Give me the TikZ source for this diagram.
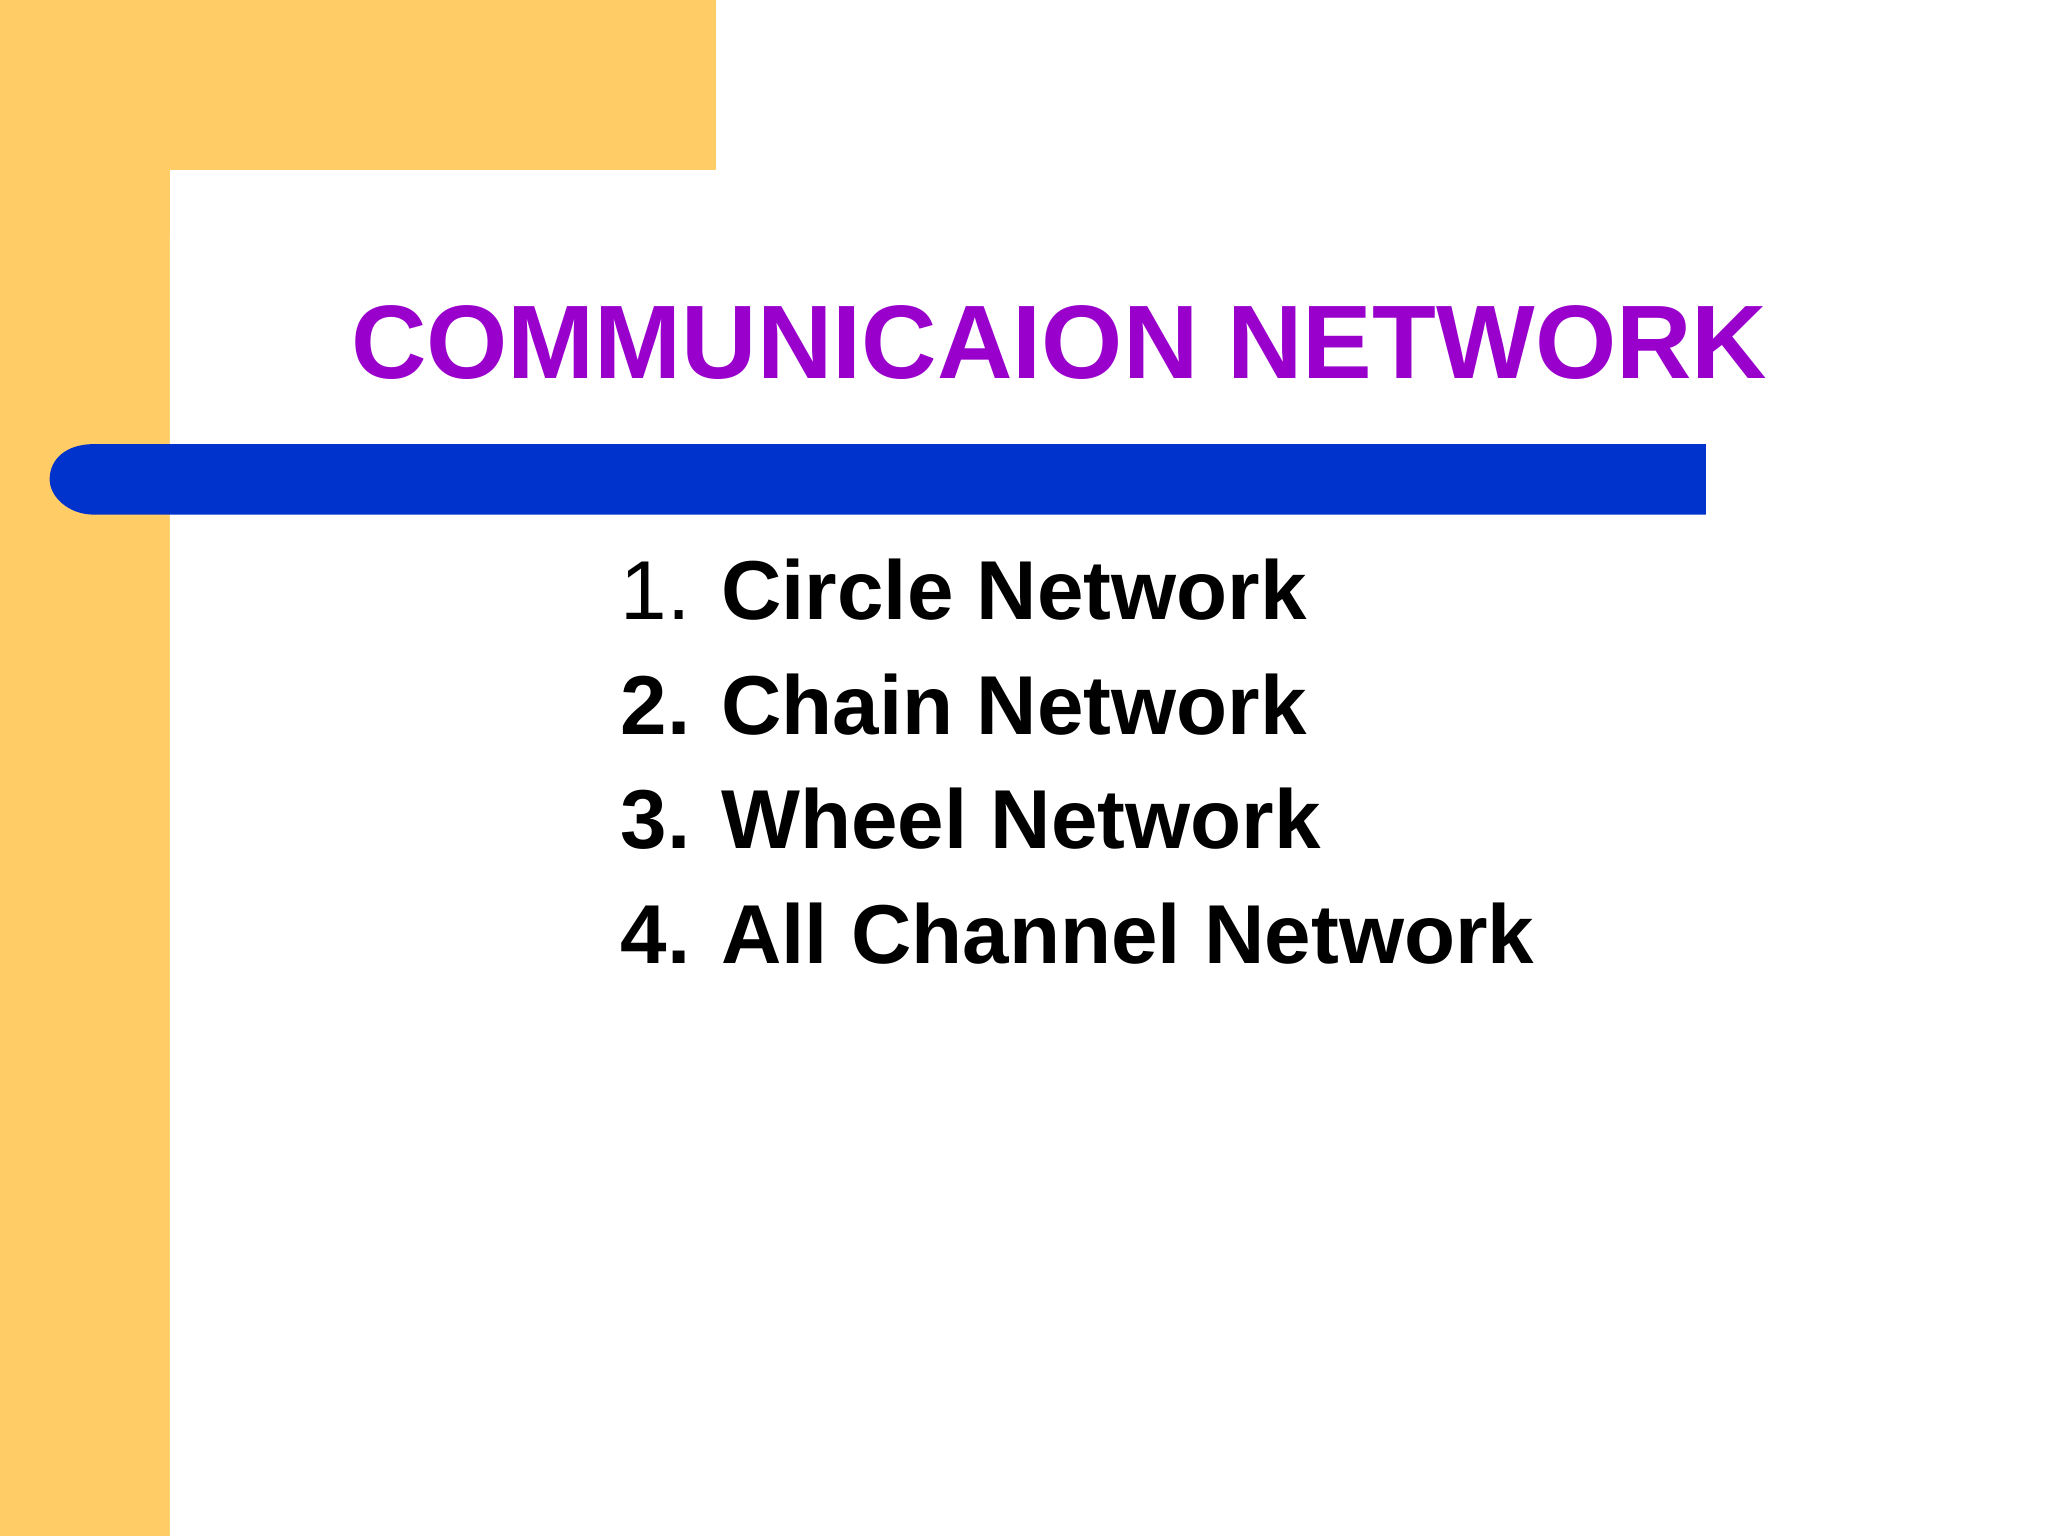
\documentclass[tikz,border=0pt]{standalone}
\usepackage{fontspec}
\setmainfont{Liberation Sans}
\definecolor{orng}{HTML}{FFCC66}
\definecolor{blu}{HTML}{0033CC}
\definecolor{purp}{HTML}{9900CC}
\begin{document}
\begin{tikzpicture}[x=1pt,y=-1pt,
  item/.style={anchor=base west,inner sep=0pt,font=\fontsize{64}{64}\selectfont\bfseries}]
\useasboundingbox (0,0) rectangle (1568,1176);
\fill[white] (0,0) rectangle (1568,1176);
\fill[orng] (0,0) rectangle (548,130);
\fill[orng] (0,0) rectangle (130,1176);
\fill[white] (130,1176) -- (130,180) arc[start angle=180,end angle=90,radius=50] -- (548,130) -- (548,131) -- (1568,131) -- (1568,1176) -- cycle;
\fill[white] (548,0) rectangle (1568,131);
\fill[blu] (1306,340) -- (72,340) .. controls (50,340) and (38,352) .. (38,367) .. controls (38,380) and (52,394) .. (72,394) -- (1306,394) -- cycle;
\node[anchor=base,inner sep=0pt,text=purp,font=\fontsize{80}{80}\selectfont\bfseries] (title) at (811,290) {COMMUNICAION NETWORK};
\node[item] (i1) at (475,474) {\mdseries 1. \bfseries Circle Network};
\node[item] (i2) at (475,562) {2. Chain Network};
\node[item] (i3) at (475,650) {3. Wheel Network};
\node[item] (i4) at (475,738) {4. All Channel Network};
\end{tikzpicture}
\end{document}
